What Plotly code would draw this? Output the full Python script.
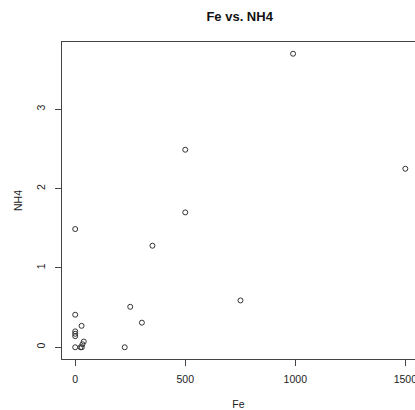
import plotly.graph_objects as go

fe = [0, 29, 0, 0, 0, 0, 24, 30, 39, 33, 225, 250, 303, 0, 351, 500, 500, 751, 990, 1500]
nh4 = [0.41, 0.27, 0.20, 0.17, 0.14, 0.0, 0.0, 0.0, 0.072, 0.038, 0.0, 0.51, 0.31, 1.49, 1.28, 1.70, 2.49, 0.59, 3.70, 2.25]

x_ticks = [0, 500, 1000, 1500]
y_ticks = [0, 1, 2, 3]

FONT = "Liberation Sans, Arial, sans-serif"
LINE = "#444444"

fig = go.Figure(go.Scatter(
    x=fe, y=nh4, mode="markers",
    marker=dict(symbol="circle-open", size=5, color="#333333", line=dict(width=1, color="#333333")),
    hoverinfo="x+y",
))

fig.update_layout(
    width=415, height=410,
    margin=dict(l=62, r=0, t=42, b=51, autoexpand=False),
    paper_bgcolor="white", plot_bgcolor="white",
    showlegend=False,
    font=dict(family=FONT, size=10.5, color="#222222"),
    title=dict(text="<b>Fe vs. NH4</b>", x=0.5775, xanchor="center", y=1 - 16 / 410, yanchor="middle",
               font=dict(family=FONT, size=13, color="#111111")),
    xaxis=dict(
        range=[-60, 1544], tickvals=x_ticks, ticktext=[str(v) for v in x_ticks],
        showgrid=False, zeroline=False, showline=True, linecolor=LINE, linewidth=1, mirror=True,
        ticks="outside", ticklen=6, tickcolor=LINE, ticklabelstandoff=4, ticklabeloverflow="allow",
        title=dict(text="Fe", standoff=18, font=dict(size=10.5)),
    ),
    yaxis=dict(
        range=[-0.148, 3.848], tickvals=y_ticks, ticktext=[str(v) for v in y_ticks],
        showgrid=False, zeroline=False, showline=True, linecolor=LINE, linewidth=1, mirror=False,
        ticks="outside", ticklen=6, tickcolor=LINE, tickangle=-90, ticklabelstandoff=6,
        title=dict(text="NH4", standoff=10, font=dict(size=10.5)),
    ),
)

fig.write_html("out.html")
